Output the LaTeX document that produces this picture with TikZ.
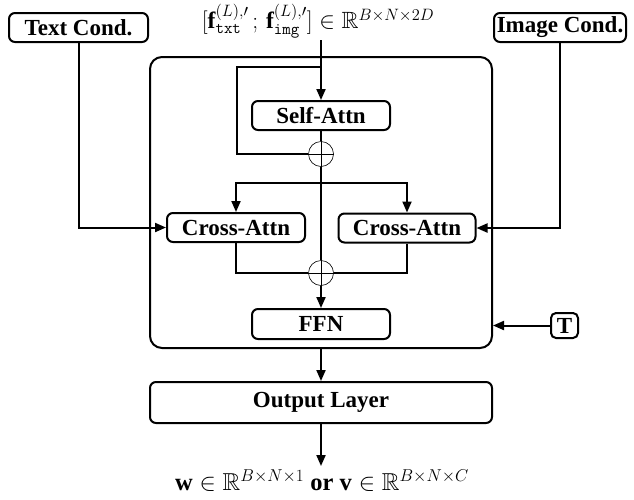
\RequirePackage{fix-cm}
\documentclass[tikz,border=0pt]{standalone}
\usepackage{amsmath,amssymb}
\usepackage{fontspec}
\setmainfont{Liberation Serif}
\usetikzlibrary{arrows.meta}
\tikzset{
  blk/.style={draw, line width=2pt, rounded corners=6pt, inner sep=0pt, align=center,
    font=\fontsize{23}{26}\selectfont\bfseries},
  conn/.style={line width=2pt},
  arr/.style={conn, -{Triangle[length=11pt,width=9pt]}},
  summ/.style={circle, draw, line width=0.6pt, minimum size=25pt, inner sep=0pt, fill=white},
  thinl/.style={line width=0.6pt},
  lbl/.style={inner sep=1pt}
}
\begin{document}
\begin{tikzpicture}[x=1pt,y=-1pt]
\useasboundingbox (0,0) rectangle (634,499);

% main container
\node[draw, line width=2pt, rounded corners=12pt, minimum width=342pt, minimum height=291pt, inner sep=0pt] (main) at (321,202.5) {};

% input nodes
\node[blk, minimum width=139pt, minimum height=29pt] (tc) at (78.5,27.5) {Text Cond.};
\node[blk, minimum width=132pt, minimum height=29pt] (ic) at (560,27.5) {Image Cond.};
\node[lbl, font=\fontsize{23.5}{28}\selectfont] (inlab) at (318,21) {$[\mathbf{f}^{(L),\prime}_{\mathtt{txt}}\,;\,\mathbf{f}^{(L),\prime}_{\mathtt{img}}]\in\mathbb{R}^{B\times N\times 2D}$};

% inner blocks
\node[blk, minimum width=138pt, minimum height=29pt] (sa) at (321,115.5) {Self-Attn};
\node[summ] (s1) at (321,154) {};
\node[blk, minimum width=138pt, minimum height=29pt] (ca1) at (236,227.5) {Cross-Attn};
\node[blk, minimum width=137pt, minimum height=29pt] (ca2) at (407,228) {Cross-Attn};
\node[summ] (s2) at (321,273) {};
\node[blk, minimum width=138pt, minimum height=30pt] (ffn) at (321,324) {FFN};

% T
\node[blk, rounded corners=5pt, minimum width=27pt, minimum height=25pt] (T) at (564.5,325.5) {T};

% output
\node[lbl, font=\fontsize{24.5}{29}\selectfont] (outlab) at (322,481) {$\mathbf{w}\in\mathbb{R}^{B\times N\times 1}$ \textbf{or} $\mathbf{v}\in\mathbb{R}^{B\times N\times C}$};
\node[blk, minimum width=342pt, minimum height=41pt] (out) at (321,402.5) {Output Layer};

% coordinates
\coordinate (top) at (321,40);
\coordinate (j1) at (321,67);
\coordinate (lp) at (237,67);
\coordinate (br) at (321,183);
\coordinate (oend) at (321,466);

% connectors
\draw[arr] (top) -- (sa.north);
\draw[conn] (j1) -- (lp) |- (s1.west);
\draw[conn] (sa.south) -- (s1.north);
\draw[conn] (s1.south) -- (s2.north);
\draw[arr] (br) -| (ca1.north);
\draw[arr] (br) -| (ca2.north);
\draw[conn] (ca1.south) |- (s2.west);
\draw[conn] (ca2.south) |- (s2.east);
\draw[arr] (s2.south) -- (ffn.north);
\draw[arr] (tc.south) |- (ca1.west);
\draw[arr] (ic.south) |- (ca2.east);
\draw[arr] (T.west) -- (main.east |- T.west);
\draw[arr] (main.south) -- (out.north);
\draw[arr] (out.south) -- (oend);

% sum symbols
\foreach \s in {s1,s2}{
  \draw[thinl] (\s.north) -- (\s.south);
  \draw[thinl] (\s.west) -- (\s.east);
}
\end{tikzpicture}
\end{document}
